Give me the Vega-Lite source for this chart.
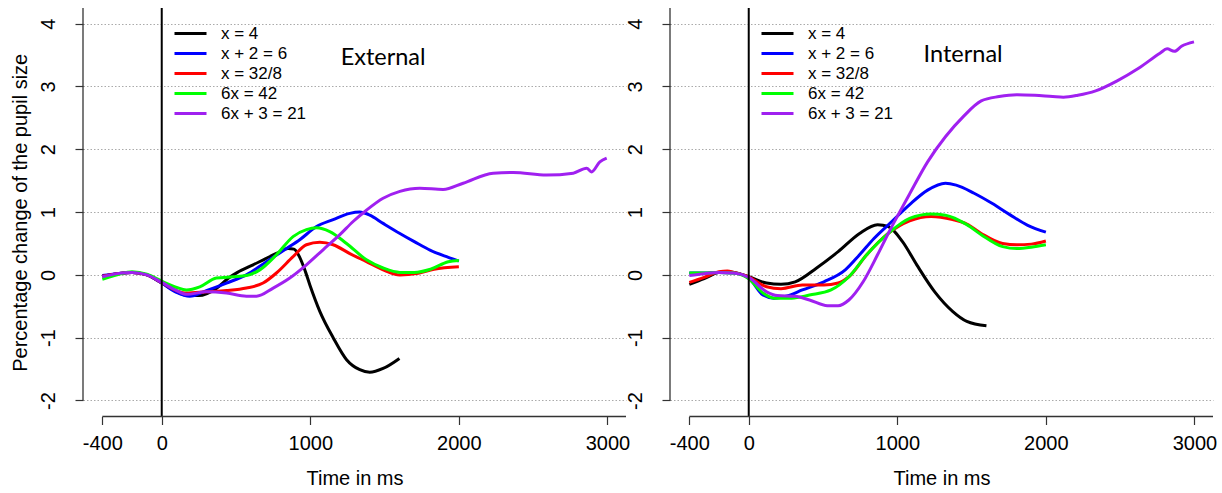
{
  "$schema": "https://vega.github.io/schema/vega-lite/v6.json",
  "background": "white",
  "padding": {"left": 10, "top": 7, "right": 2, "bottom": 2},
  "spacing": -5,
  "datasets": {
    "curves": [
      {"p":"External","s":"x = 4","t":-400,"v":-0.02},{"p":"External","s":"x = 4","t":-300,"v":0.02},{"p":"External","s":"x = 4","t":-200,"v":0.04},{"p":"External","s":"x = 4","t":-100,"v":0.0},{"p":"External","s":"x = 4","t":0,"v":-0.13},{"p":"External","s":"x = 4","t":100,"v":-0.27},{"p":"External","s":"x = 4","t":175,"v":-0.33},{"p":"External","s":"x = 4","t":250,"v":-0.33},{"p":"External","s":"x = 4","t":365,"v":-0.22},{"p":"External","s":"x = 4","t":450,"v":-0.05},{"p":"External","s":"x = 4","t":510,"v":0.04},{"p":"External","s":"x = 4","t":615,"v":0.16},{"p":"External","s":"x = 4","t":700,"v":0.26},{"p":"External","s":"x = 4","t":780,"v":0.35},{"p":"External","s":"x = 4","t":850,"v":0.42},{"p":"External","s":"x = 4","t":890,"v":0.41},{"p":"External","s":"x = 4","t":929,"v":0.28},{"p":"External","s":"x = 4","t":960,"v":0.1},{"p":"External","s":"x = 4","t":997,"v":-0.16},{"p":"External","s":"x = 4","t":1064,"v":-0.58},{"p":"External","s":"x = 4","t":1154,"v":-1.0},{"p":"External","s":"x = 4","t":1244,"v":-1.35},{"p":"External","s":"x = 4","t":1333,"v":-1.51},{"p":"External","s":"x = 4","t":1400,"v":-1.55},{"p":"External","s":"x = 4","t":1490,"v":-1.49},{"p":"External","s":"x = 4","t":1600,"v":-1.33},
      {"p":"External","s":"x + 2 = 6","t":-400,"v":-0.01},{"p":"External","s":"x + 2 = 6","t":-300,"v":0.02},{"p":"External","s":"x + 2 = 6","t":-200,"v":0.04},{"p":"External","s":"x + 2 = 6","t":-100,"v":0.0},{"p":"External","s":"x + 2 = 6","t":0,"v":-0.13},{"p":"External","s":"x + 2 = 6","t":100,"v":-0.28},{"p":"External","s":"x + 2 = 6","t":188,"v":-0.34},{"p":"External","s":"x + 2 = 6","t":300,"v":-0.25},{"p":"External","s":"x + 2 = 6","t":436,"v":-0.13},{"p":"External","s":"x + 2 = 6","t":570,"v":0.0},{"p":"External","s":"x + 2 = 6","t":705,"v":0.21},{"p":"External","s":"x + 2 = 6","t":840,"v":0.42},{"p":"External","s":"x + 2 = 6","t":929,"v":0.56},{"p":"External","s":"x + 2 = 6","t":1042,"v":0.77},{"p":"External","s":"x + 2 = 6","t":1154,"v":0.88},{"p":"External","s":"x + 2 = 6","t":1266,"v":0.98},{"p":"External","s":"x + 2 = 6","t":1333,"v":1.0},{"p":"External","s":"x + 2 = 6","t":1400,"v":0.95},{"p":"External","s":"x + 2 = 6","t":1490,"v":0.82},{"p":"External","s":"x + 2 = 6","t":1603,"v":0.66},{"p":"External","s":"x + 2 = 6","t":1700,"v":0.53},{"p":"External","s":"x + 2 = 6","t":1809,"v":0.39},{"p":"External","s":"x + 2 = 6","t":1929,"v":0.28},{"p":"External","s":"x + 2 = 6","t":2000,"v":0.22},
      {"p":"External","s":"x = 32/8","t":-400,"v":-0.02},{"p":"External","s":"x = 32/8","t":-300,"v":0.02},{"p":"External","s":"x = 32/8","t":-200,"v":0.04},{"p":"External","s":"x = 32/8","t":-100,"v":0.0},{"p":"External","s":"x = 32/8","t":0,"v":-0.12},{"p":"External","s":"x = 32/8","t":100,"v":-0.25},{"p":"External","s":"x = 32/8","t":166,"v":-0.29},{"p":"External","s":"x = 32/8","t":301,"v":-0.27},{"p":"External","s":"x = 32/8","t":436,"v":-0.25},{"p":"External","s":"x = 32/8","t":570,"v":-0.21},{"p":"External","s":"x = 32/8","t":682,"v":-0.13},{"p":"External","s":"x = 32/8","t":772,"v":0.03},{"p":"External","s":"x = 32/8","t":884,"v":0.29},{"p":"External","s":"x = 32/8","t":974,"v":0.48},{"p":"External","s":"x = 32/8","t":1064,"v":0.52},{"p":"External","s":"x = 32/8","t":1154,"v":0.48},{"p":"External","s":"x = 32/8","t":1266,"v":0.34},{"p":"External","s":"x = 32/8","t":1378,"v":0.21},{"p":"External","s":"x = 32/8","t":1490,"v":0.08},{"p":"External","s":"x = 32/8","t":1603,"v":0.0},{"p":"External","s":"x = 32/8","t":1715,"v":0.02},{"p":"External","s":"x = 32/8","t":1833,"v":0.09},{"p":"External","s":"x = 32/8","t":2000,"v":0.13},
      {"p":"External","s":"6x = 42","t":-400,"v":-0.07},{"p":"External","s":"6x = 42","t":-300,"v":0.0},{"p":"External","s":"6x = 42","t":-200,"v":0.05},{"p":"External","s":"6x = 42","t":-100,"v":0.01},{"p":"External","s":"6x = 42","t":0,"v":-0.1},{"p":"External","s":"6x = 42","t":100,"v":-0.2},{"p":"External","s":"6x = 42","t":166,"v":-0.24},{"p":"External","s":"6x = 42","t":256,"v":-0.19},{"p":"External","s":"6x = 42","t":368,"v":-0.05},{"p":"External","s":"6x = 42","t":480,"v":-0.03},{"p":"External","s":"6x = 42","t":570,"v":-0.01},{"p":"External","s":"6x = 42","t":660,"v":0.08},{"p":"External","s":"6x = 42","t":772,"v":0.32},{"p":"External","s":"6x = 42","t":884,"v":0.61},{"p":"External","s":"6x = 42","t":974,"v":0.72},{"p":"External","s":"6x = 42","t":1042,"v":0.75},{"p":"External","s":"6x = 42","t":1131,"v":0.69},{"p":"External","s":"6x = 42","t":1244,"v":0.5},{"p":"External","s":"6x = 42","t":1378,"v":0.24},{"p":"External","s":"6x = 42","t":1490,"v":0.11},{"p":"External","s":"6x = 42","t":1603,"v":0.04},{"p":"External","s":"6x = 42","t":1700,"v":0.04},{"p":"External","s":"6x = 42","t":1809,"v":0.09},{"p":"External","s":"6x = 42","t":1929,"v":0.21},{"p":"External","s":"6x = 42","t":2000,"v":0.23},
      {"p":"External","s":"6x + 3 = 21","t":-400,"v":-0.03},{"p":"External","s":"6x + 3 = 21","t":-300,"v":0.02},{"p":"External","s":"6x + 3 = 21","t":-200,"v":0.04},{"p":"External","s":"6x + 3 = 21","t":-100,"v":0.0},{"p":"External","s":"6x + 3 = 21","t":0,"v":-0.12},{"p":"External","s":"6x + 3 = 21","t":100,"v":-0.25},{"p":"External","s":"6x + 3 = 21","t":166,"v":-0.31},{"p":"External","s":"6x + 3 = 21","t":301,"v":-0.27},{"p":"External","s":"6x + 3 = 21","t":436,"v":-0.29},{"p":"External","s":"6x + 3 = 21","t":570,"v":-0.34},{"p":"External","s":"6x + 3 = 21","t":638,"v":-0.34},{"p":"External","s":"6x + 3 = 21","t":750,"v":-0.21},{"p":"External","s":"6x + 3 = 21","t":862,"v":-0.05},{"p":"External","s":"6x + 3 = 21","t":974,"v":0.16},{"p":"External","s":"6x + 3 = 21","t":1086,"v":0.4},{"p":"External","s":"6x + 3 = 21","t":1199,"v":0.64},{"p":"External","s":"6x + 3 = 21","t":1288,"v":0.85},{"p":"External","s":"6x + 3 = 21","t":1378,"v":1.03},{"p":"External","s":"6x + 3 = 21","t":1490,"v":1.22},{"p":"External","s":"6x + 3 = 21","t":1603,"v":1.33},{"p":"External","s":"6x + 3 = 21","t":1737,"v":1.38},{"p":"External","s":"6x + 3 = 21","t":1894,"v":1.36},{"p":"External","s":"6x + 3 = 21","t":2029,"v":1.46},{"p":"External","s":"6x + 3 = 21","t":2231,"v":1.62},{"p":"External","s":"6x + 3 = 21","t":2366,"v":1.63},{"p":"External","s":"6x + 3 = 21","t":2590,"v":1.59},{"p":"External","s":"6x + 3 = 21","t":2770,"v":1.62},{"p":"External","s":"6x + 3 = 21","t":2860,"v":1.7},{"p":"External","s":"6x + 3 = 21","t":2893,"v":1.64},{"p":"External","s":"6x + 3 = 21","t":2949,"v":1.8},{"p":"External","s":"6x + 3 = 21","t":2995,"v":1.86},
      {"p":"Internal","s":"x = 4","t":-400,"v":-0.15},{"p":"Internal","s":"x = 4","t":-300,"v":-0.06},{"p":"Internal","s":"x = 4","t":-200,"v":0.04},{"p":"Internal","s":"x = 4","t":-144,"v":0.05},{"p":"Internal","s":"x = 4","t":-100,"v":0.04},{"p":"Internal","s":"x = 4","t":0,"v":-0.03},{"p":"Internal","s":"x = 4","t":120,"v":-0.13},{"p":"Internal","s":"x = 4","t":217,"v":-0.15},{"p":"Internal","s":"x = 4","t":313,"v":-0.11},{"p":"Internal","s":"x = 4","t":457,"v":0.11},{"p":"Internal","s":"x = 4","t":602,"v":0.37},{"p":"Internal","s":"x = 4","t":746,"v":0.66},{"p":"Internal","s":"x = 4","t":867,"v":0.8},{"p":"Internal","s":"x = 4","t":939,"v":0.77},{"p":"Internal","s":"x = 4","t":1035,"v":0.53},{"p":"Internal","s":"x = 4","t":1131,"v":0.16},{"p":"Internal","s":"x = 4","t":1252,"v":-0.27},{"p":"Internal","s":"x = 4","t":1372,"v":-0.58},{"p":"Internal","s":"x = 4","t":1468,"v":-0.74},{"p":"Internal","s":"x = 4","t":1600,"v":-0.81},
      {"p":"Internal","s":"x + 2 = 6","t":-400,"v":0.03},{"p":"Internal","s":"x + 2 = 6","t":-300,"v":0.03},{"p":"Internal","s":"x + 2 = 6","t":-200,"v":0.04},{"p":"Internal","s":"x + 2 = 6","t":-100,"v":0.03},{"p":"Internal","s":"x + 2 = 6","t":0,"v":-0.05},{"p":"Internal","s":"x + 2 = 6","t":96,"v":-0.32},{"p":"Internal","s":"x + 2 = 6","t":169,"v":-0.37},{"p":"Internal","s":"x + 2 = 6","t":265,"v":-0.33},{"p":"Internal","s":"x + 2 = 6","t":361,"v":-0.24},{"p":"Internal","s":"x + 2 = 6","t":506,"v":-0.11},{"p":"Internal","s":"x + 2 = 6","t":650,"v":0.08},{"p":"Internal","s":"x + 2 = 6","t":746,"v":0.32},{"p":"Internal","s":"x + 2 = 6","t":843,"v":0.58},{"p":"Internal","s":"x + 2 = 6","t":963,"v":0.85},{"p":"Internal","s":"x + 2 = 6","t":1083,"v":1.12},{"p":"Internal","s":"x + 2 = 6","t":1204,"v":1.35},{"p":"Internal","s":"x + 2 = 6","t":1324,"v":1.46},{"p":"Internal","s":"x + 2 = 6","t":1396,"v":1.43},{"p":"Internal","s":"x + 2 = 6","t":1517,"v":1.3},{"p":"Internal","s":"x + 2 = 6","t":1637,"v":1.14},{"p":"Internal","s":"x + 2 = 6","t":1757,"v":0.96},{"p":"Internal","s":"x + 2 = 6","t":1878,"v":0.79},{"p":"Internal","s":"x + 2 = 6","t":2000,"v":0.68},
      {"p":"Internal","s":"x = 32/8","t":-400,"v":-0.12},{"p":"Internal","s":"x = 32/8","t":-300,"v":-0.04},{"p":"Internal","s":"x = 32/8","t":-200,"v":0.05},{"p":"Internal","s":"x = 32/8","t":-144,"v":0.06},{"p":"Internal","s":"x = 32/8","t":-100,"v":0.04},{"p":"Internal","s":"x = 32/8","t":0,"v":-0.03},{"p":"Internal","s":"x = 32/8","t":120,"v":-0.19},{"p":"Internal","s":"x = 32/8","t":217,"v":-0.22},{"p":"Internal","s":"x = 32/8","t":361,"v":-0.16},{"p":"Internal","s":"x = 32/8","t":506,"v":-0.16},{"p":"Internal","s":"x = 32/8","t":602,"v":-0.13},{"p":"Internal","s":"x = 32/8","t":674,"v":-0.03},{"p":"Internal","s":"x = 32/8","t":794,"v":0.32},{"p":"Internal","s":"x = 32/8","t":939,"v":0.66},{"p":"Internal","s":"x = 32/8","t":1083,"v":0.86},{"p":"Internal","s":"x = 32/8","t":1228,"v":0.93},{"p":"Internal","s":"x = 32/8","t":1372,"v":0.88},{"p":"Internal","s":"x = 32/8","t":1468,"v":0.81},{"p":"Internal","s":"x = 32/8","t":1565,"v":0.66},{"p":"Internal","s":"x = 32/8","t":1709,"v":0.5},{"p":"Internal","s":"x = 32/8","t":1805,"v":0.48},{"p":"Internal","s":"x = 32/8","t":1902,"v":0.49},{"p":"Internal","s":"x = 32/8","t":2000,"v":0.54},
      {"p":"Internal","s":"6x = 42","t":-400,"v":0.03},{"p":"Internal","s":"6x = 42","t":-300,"v":0.03},{"p":"Internal","s":"6x = 42","t":-200,"v":0.04},{"p":"Internal","s":"6x = 42","t":-100,"v":0.03},{"p":"Internal","s":"6x = 42","t":0,"v":-0.06},{"p":"Internal","s":"6x = 42","t":96,"v":-0.29},{"p":"Internal","s":"6x = 42","t":169,"v":-0.37},{"p":"Internal","s":"6x = 42","t":289,"v":-0.37},{"p":"Internal","s":"6x = 42","t":409,"v":-0.32},{"p":"Internal","s":"6x = 42","t":554,"v":-0.24},{"p":"Internal","s":"6x = 42","t":674,"v":-0.03},{"p":"Internal","s":"6x = 42","t":794,"v":0.32},{"p":"Internal","s":"6x = 42","t":939,"v":0.66},{"p":"Internal","s":"6x = 42","t":1083,"v":0.9},{"p":"Internal","s":"6x = 42","t":1228,"v":0.97},{"p":"Internal","s":"6x = 42","t":1324,"v":0.95},{"p":"Internal","s":"6x = 42","t":1468,"v":0.8},{"p":"Internal","s":"6x = 42","t":1565,"v":0.64},{"p":"Internal","s":"6x = 42","t":1709,"v":0.45},{"p":"Internal","s":"6x = 42","t":1805,"v":0.42},{"p":"Internal","s":"6x = 42","t":1902,"v":0.44},{"p":"Internal","s":"6x = 42","t":2000,"v":0.48},
      {"p":"Internal","s":"6x + 3 = 21","t":-400,"v":-0.01},{"p":"Internal","s":"6x + 3 = 21","t":-300,"v":0.02},{"p":"Internal","s":"6x + 3 = 21","t":-200,"v":0.04},{"p":"Internal","s":"6x + 3 = 21","t":-100,"v":0.03},{"p":"Internal","s":"6x + 3 = 21","t":0,"v":-0.04},{"p":"Internal","s":"6x + 3 = 21","t":120,"v":-0.27},{"p":"Internal","s":"6x + 3 = 21","t":193,"v":-0.33},{"p":"Internal","s":"6x + 3 = 21","t":313,"v":-0.34},{"p":"Internal","s":"6x + 3 = 21","t":409,"v":-0.4},{"p":"Internal","s":"6x + 3 = 21","t":530,"v":-0.49},{"p":"Internal","s":"6x + 3 = 21","t":602,"v":-0.49},{"p":"Internal","s":"6x + 3 = 21","t":674,"v":-0.4},{"p":"Internal","s":"6x + 3 = 21","t":770,"v":-0.11},{"p":"Internal","s":"6x + 3 = 21","t":867,"v":0.32},{"p":"Internal","s":"6x + 3 = 21","t":939,"v":0.66},{"p":"Internal","s":"6x + 3 = 21","t":1011,"v":0.98},{"p":"Internal","s":"6x + 3 = 21","t":1083,"v":1.29},{"p":"Internal","s":"6x + 3 = 21","t":1204,"v":1.8},{"p":"Internal","s":"6x + 3 = 21","t":1324,"v":2.2},{"p":"Internal","s":"6x + 3 = 21","t":1444,"v":2.52},{"p":"Internal","s":"6x + 3 = 21","t":1565,"v":2.77},{"p":"Internal","s":"6x + 3 = 21","t":1685,"v":2.84},{"p":"Internal","s":"6x + 3 = 21","t":1805,"v":2.87},{"p":"Internal","s":"6x + 3 = 21","t":1926,"v":2.86},{"p":"Internal","s":"6x + 3 = 21","t":2046,"v":2.84},{"p":"Internal","s":"6x + 3 = 21","t":2118,"v":2.83},{"p":"Internal","s":"6x + 3 = 21","t":2215,"v":2.86},{"p":"Internal","s":"6x + 3 = 21","t":2335,"v":2.93},{"p":"Internal","s":"6x + 3 = 21","t":2480,"v":3.09},{"p":"Internal","s":"6x + 3 = 21","t":2624,"v":3.29},{"p":"Internal","s":"6x + 3 = 21","t":2768,"v":3.53},{"p":"Internal","s":"6x + 3 = 21","t":2816,"v":3.6},{"p":"Internal","s":"6x + 3 = 21","t":2865,"v":3.56},{"p":"Internal","s":"6x + 3 = 21","t":2913,"v":3.64},{"p":"Internal","s":"6x + 3 = 21","t":2997,"v":3.71}
    ]
  },
  "hconcat": [
    {
      "width": 543, "height": 408.5,
      "layer": [
        {"data": {"name": "curves"}, "transform": [{"filter": "datum.p === 'External'"}],
         "mark": {"type": "line", "strokeWidth": 3, "interpolate": "monotone"},
         "encoding": {
           "x": {"field": "t", "type": "quantitative", "scale": {"domain": [-530, 3125], "nice": false, "zero": false},
                 "axis": {"values": [-400, 0, 1000, 2000, 3000], "labelExpr": "datum.value + ''", "title": "Time in ms", "grid": false, "labelPadding": 9, "titlePadding": 15, "labelFlush": false, "labelOverlap": false}},
           "y": {"field": "v", "type": "quantitative", "scale": {"domain": [-2.255, 4.25], "nice": false, "zero": false},
                 "axis": {"values": [-2, -1, 0, 1, 2, 3, 4], "labelExpr": "datum.value + ''", "title": "Percentage change of the pupil size", "labelAngle": -90, "labelAlign": "center", "labelBaseline": "alphabetic", "labelPadding": 21, "titlePadding": 8, "grid": true, "gridDash": [1.5, 2], "gridColor": "#aaaaaa", "labelFlush": false, "labelOverlap": false}},
           "color": {"field": "s", "type": "nominal",
                     "scale": {"domain": ["x = 4", "x + 2 = 6", "x = 32/8", "6x = 42", "6x + 3 = 21"], "range": ["#000000", "#0000ff", "#ff0000", "#00ff00", "#a020f0"]},
                     "legend": {"orient": "none", "legendX": 90, "legendY": 15.5, "title": null, "symbolType": "stroke", "symbolSize": 1024, "symbolStrokeWidth": 3, "labelFontSize": 17, "labelFont": "Liberation Sans", "clipHeight": 20, "rowPadding": 0, "labelOffset": 13, "padding": 0, "labelLimit": 300}}
         }},
        {"data": {"values": [{}]}, "mark": {"type": "rule", "color": "black", "strokeWidth": 2},
         "encoding": {"x": {"datum": 0, "type": "quantitative"}}},
        {"data": {"values": [{}]}, "mark": {"type": "rule", "color": "#333333", "strokeWidth": 1.3},
         "encoding": {"x": {"datum": -530, "type": "quantitative"}, "y": {"datum": -2, "type": "quantitative"}, "y2": {"datum": 4.25}}},
        {"data": {"values": [{}]}, "mark": {"type": "rule", "color": "#333333", "strokeWidth": 1.3},
         "encoding": {"y": {"datum": -2.255, "type": "quantitative"}, "x": {"datum": -400, "type": "quantitative"}, "x2": {"datum": 3125}}},
        {"data": {"values": [{}]}, "mark": {"type": "text", "font": "Lato", "fontSize": 23.5, "align": "center", "baseline": "alphabetic", "color": "black"},
         "encoding": {"x": {"datum": 1490, "type": "quantitative"}, "y": {"datum": 3.336, "type": "quantitative"}, "text": {"value": "External"}}}
      ]
    },
    {
      "width": 543, "height": 408.5,
      "layer": [
        {"data": {"name": "curves"}, "transform": [{"filter": "datum.p === 'Internal'"}],
         "mark": {"type": "line", "strokeWidth": 3, "interpolate": "monotone"},
         "encoding": {
           "x": {"field": "t", "type": "quantitative", "scale": {"domain": [-530, 3125], "nice": false, "zero": false},
                 "axis": {"values": [-400, 0, 1000, 2000, 3000], "labelExpr": "datum.value + ''", "title": "Time in ms", "grid": false, "labelPadding": 9, "titlePadding": 15, "labelFlush": false, "labelOverlap": false}},
           "y": {"field": "v", "type": "quantitative", "scale": {"domain": [-2.255, 4.25], "nice": false, "zero": false},
                 "axis": {"values": [-2, -1, 0, 1, 2, 3, 4], "labelExpr": "datum.value + ''", "title": null, "labelAngle": -90, "labelAlign": "center", "labelBaseline": "alphabetic", "labelPadding": 21, "grid": true, "gridDash": [1.5, 2], "gridColor": "#aaaaaa", "labelFlush": false, "labelOverlap": false}},
           "color": {"field": "s", "type": "nominal",
                     "scale": {"domain": ["x = 4", "x + 2 = 6", "x = 32/8", "6x = 42", "6x + 3 = 21"], "range": ["#000000", "#0000ff", "#ff0000", "#00ff00", "#a020f0"]},
                     "legend": {"orient": "none", "legendX": 90, "legendY": 15.5, "title": null, "symbolType": "stroke", "symbolSize": 1024, "symbolStrokeWidth": 3, "labelFontSize": 17, "labelFont": "Liberation Sans", "clipHeight": 20, "rowPadding": 0, "labelOffset": 13, "padding": 0, "labelLimit": 300}}
         }},
        {"data": {"values": [{}]}, "mark": {"type": "rule", "color": "black", "strokeWidth": 2},
         "encoding": {"x": {"datum": 0, "type": "quantitative"}}},
        {"data": {"values": [{}]}, "mark": {"type": "rule", "color": "#333333", "strokeWidth": 1.3},
         "encoding": {"x": {"datum": -530, "type": "quantitative"}, "y": {"datum": -2, "type": "quantitative"}, "y2": {"datum": 4.25}}},
        {"data": {"values": [{}]}, "mark": {"type": "rule", "color": "#333333", "strokeWidth": 1.3},
         "encoding": {"y": {"datum": -2.255, "type": "quantitative"}, "x": {"datum": -400, "type": "quantitative"}, "x2": {"datum": 3125}}},
        {"data": {"values": [{}]}, "mark": {"type": "text", "font": "Lato", "fontSize": 23.5, "align": "center", "baseline": "alphabetic", "color": "black"},
         "encoding": {"x": {"datum": 1443, "type": "quantitative"}, "y": {"datum": 3.384, "type": "quantitative"}, "text": {"value": "Internal"}}}
      ]
    }
  ],
  "resolve": {"legend": {"color": "independent"}},
  "config": {
    "view": {"stroke": null},
    "font": "Liberation Sans",
    "axis": {"labelFont": "Liberation Sans", "titleFont": "Liberation Sans", "labelColor": "black", "titleColor": "black", "titleFontWeight": "normal", "labelFontSize": 20, "titleFontSize": 20, "domain": false, "tickColor": "#333333", "tickSize": 8, "tickWidth": 1.2}
  }
}
